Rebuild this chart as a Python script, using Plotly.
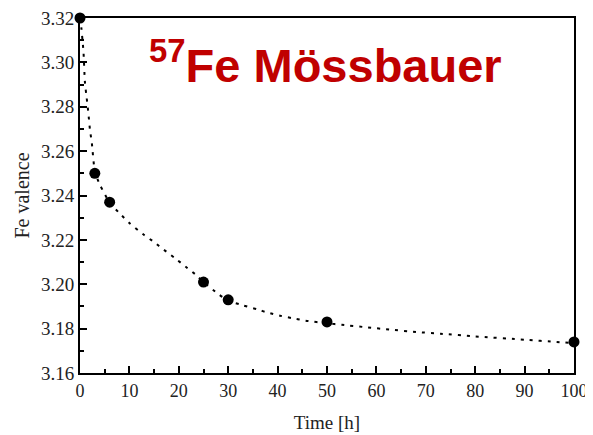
import plotly.graph_objects as go

# Measured data points
time_h = [0, 3, 6, 25, 30, 50, 100]
fe_valence = [3.320, 3.250, 3.237, 3.201, 3.193, 3.183, 3.174]

# Fitted curve (dotted)
curve_t = [0, 0.3, 0.5, 0.7, 1.0, 1.35, 1.7, 2.0, 2.4, 3, 4, 6, 8, 10, 12.8, 15, 17,
           19.2, 21.4, 23.6, 25, 28, 30, 33, 36, 38, 40.5, 43, 45.7, 50, 53, 58, 63,
           68, 73, 80, 90, 96.5, 100]
curve_v = [3.320, 3.315, 3.310, 3.305, 3.291, 3.284, 3.277, 3.270, 3.2635, 3.251,
           3.245, 3.2368, 3.2320, 3.2276, 3.2225, 3.219, 3.2155, 3.2118, 3.2079,
           3.2040, 3.201, 3.1956, 3.1926, 3.1905, 3.1886, 3.1872, 3.1858, 3.1847,
           3.1836, 3.1824, 3.1817, 3.1806, 3.1795, 3.1785, 3.1777, 3.1765, 3.1750,
           3.1740, 3.1734]

x_ticks = [0, 10, 20, 30, 40, 50, 60, 70, 80, 90, 100]
y_ticks = [3.16, 3.18, 3.20, 3.22, 3.24, 3.26, 3.28, 3.30, 3.32]
y_ticklabels = ["3.16", "3.18", "3.20", "3.22", "3.24", "3.26", "3.28", "3.30", "3.32"]

title_text = "<b><sup>57</sup>Fe Mössbauer</b>"

fig = go.Figure()
fig.add_trace(go.Scatter(
    x=curve_t, y=curve_v, mode="lines",
    line=dict(color="black", width=2, dash="3px,6px", shape="spline", smoothing=0.6),
    hoverinfo="skip", showlegend=False, cliponaxis=False))
fig.add_trace(go.Scatter(
    x=time_h, y=fe_valence, mode="markers",
    marker=dict(color="black", size=11),
    showlegend=False, cliponaxis=False))

serif = "Liberation Serif, Times New Roman, serif"

# The page body adds an 8px margin, so the figure is sized to fit inside it.
fig.update_layout(
    width=585, height=427,
    margin=dict(l=72, r=19, t=10, b=62),
    paper_bgcolor="white", plot_bgcolor="white",
    font=dict(family=serif, size=18, color="#222"),
    xaxis=dict(
        range=[0, 100], tickvals=x_ticks, ticks="inside", ticklen=7, tickwidth=1.5,
        tickcolor="black", showline=True, linecolor="black", linewidth=2, mirror=True,
        showgrid=False, zeroline=False, automargin=False, ticklabeloverflow="allow",
        minor=dict(dtick=5, tick0=0, ticks="inside", ticklen=4, tickwidth=1.5,
                   tickcolor="black", showgrid=False),
        tickfont=dict(family=serif, size=18, color="#222"),
        title=dict(text="Time [h]", font=dict(family=serif, size=19, color="#222"),
                   standoff=16)),
    yaxis=dict(
        range=[3.16, 3.32], tickvals=y_ticks, ticktext=y_ticklabels, ticks="inside",
        ticklen=7, tickwidth=1.5, tickcolor="black", showline=True, linecolor="black",
        linewidth=2, mirror=True, showgrid=False, zeroline=False, automargin=False,
        ticklabeloverflow="allow",
        minor=dict(dtick=0.01, tick0=3.16, ticks="inside", ticklen=4, tickwidth=1.5,
                   tickcolor="black", showgrid=False),
        tickfont=dict(family=serif, size=19, color="#222"),
        title=dict(text="Fe valence", font=dict(family=serif, size=20, color="#222"),
                   standoff=6)),
    annotations=[dict(
        text=title_text, xref="paper", yref="paper", x=0.496, y=0.877,
        xanchor="center", yanchor="middle", showarrow=False,
        font=dict(family="Liberation Sans, Arial, sans-serif", size=47, color="#C00000"))],
)

fig.write_html("out.html")
